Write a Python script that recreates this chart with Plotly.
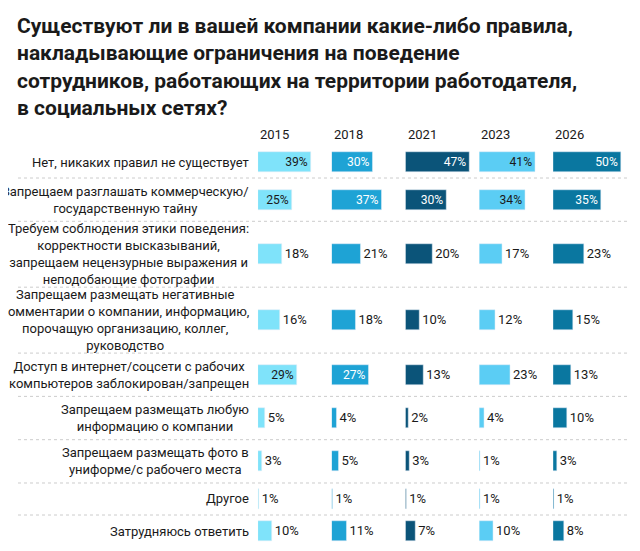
import plotly.graph_objects as go

years = ['2015', '2018', '2021', '2023', '2026']
labels = [
    'Нет, никаких правил не существует',
    'Запрещаем разглашать коммерческую/<br>государственную тайну',
    'Требуем соблюдения этики поведения:<br>корректности высказываний,<br>запрещаем нецензурные выражения и<br>неподобающие фотографии',
    'Запрещаем размещать негативные<br>комментарии о компании, информацию,<br>порочащую организацию, коллег,<br>руководство',
    'Доступ в интернет/соцсети с рабочих<br>компьютеров заблокирован/запрещен',
    'Запрещаем размещать любую<br>информацию о компании',
    'Запрещаем размещать фото в<br>униформе/с рабочего места',
    'Другое',
    'Затрудняюсь ответить',
]
v2015 = [39, 25, 18, 16, 29, 5, 3, 1, 10]
v2018 = [30, 37, 21, 18, 27, 4, 5, 1, 11]
v2021 = [47, 30, 20, 10, 13, 2, 3, 1, 7]
v2023 = [41, 34, 17, 12, 23, 4, 1, 1, 10]
v2026 = [50, 35, 23, 15, 13, 10, 3, 1, 8]
values = [v2015, v2018, v2021, v2023, v2026]

colors = ['#7fe3fa', '#1ea3d5', '#0b5479', '#5bcdf4', '#0a77a0']
text_in = ['#1a1a1a', 'white', 'white', '#1a1a1a', 'white']

# row centres from number of label lines
heights = [22 + 12 * (l.count('<br>') + 1) for l in labels]
ys, bounds, acc = [], [0], 0
for h in heights:
    ys.append(acc + h / 2)
    acc += h
    bounds.append(acc)
total = acc

fig = go.Figure()
x0, w = 0.387, 0.119
for i, (yr, vals) in enumerate(zip(years, values)):
    ax = '' if i == 0 else str(i + 1)
    fig.add_trace(go.Bar(
        x=vals, y=ys, orientation='h', width=20 / 400 * total,
        marker_color=colors[i], xaxis='x' + ax, yaxis='y',
        text=[f'{v}%' for v in vals],
        textposition=['inside' if v >= 25 else 'outside' for v in vals],
        insidetextanchor='end',
        insidetextfont=dict(color=text_in[i], size=13),
        outsidetextfont=dict(color='#1a1a1a', size=13),
        cliponaxis=False, showlegend=False,
    ))
    fig.layout['xaxis' + ax] = dict(domain=[x0 + i * w, x0 + i * w + w - 0.005],
                                    range=[0, 52], visible=False, anchor='y')
    fig.add_annotation(text=yr, x=x0 + i * w, y=1.005, xref='paper', yref='paper',
                       xanchor='left', yanchor='bottom', showarrow=False,
                       font=dict(size=13, color='#1a1a1a'))

for y, l in zip(ys, labels):
    fig.add_annotation(text=l, x=0.375, y=y, xref='paper', yref='y', xanchor='right',
                       align='center', showarrow=False,
                       font=dict(size=13, color='#1a1a1a'))

for b in bounds[1:-1]:
    fig.add_shape(type='line', x0=0.0, x1=0.985, y0=b, y1=b, xref='paper', yref='y',
                  line=dict(color='#cccccc', width=1, dash='dot'))

fig.add_annotation(
    text='<b>Существуют ли в вашей компании какие-либо правила,<br>накладывающие ограничения на поведение<br>сотрудников, работающих на территории работодателя,<br>в социальных сетях?</b>',
    x=-0.005, y=1.335, xref='paper', yref='paper', xanchor='left', yanchor='top',
    align='left', showarrow=False, font=dict(size=21, color='#1a1a1a'))

fig.update_layout(
    width=640, height=551,
    font=dict(family='Roboto, sans-serif'),
    yaxis=dict(range=[total, 0], visible=False, domain=[0, 1]),
    margin=dict(l=10, r=10, t=138, b=12),
    plot_bgcolor='white', paper_bgcolor='white',
    bargap=0,
)

fig.write_html('out.html')
